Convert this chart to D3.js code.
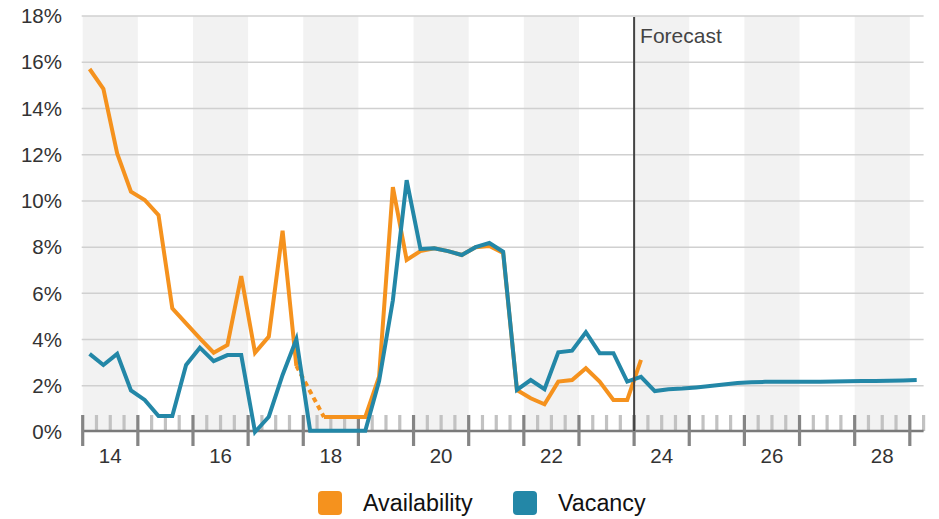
<!DOCTYPE html>
<html>
<head>
<meta charset="utf-8">
<script src="https://cdn.jsdelivr.net/npm/d3@7"></script>
<style>
  html, body { margin: 0; padding: 0; background: #fff; }
  svg { display: block; font-family: "Liberation Sans", Arial, Helvetica, sans-serif; }
</style>
</head>
<body>
<svg id="chart" width="939" height="519"></svg>
<script>
// ---- data ----
const quarters = [
  "2014Q1","2014Q2","2014Q3","2014Q4","2015Q1","2015Q2","2015Q3","2015Q4",
  "2016Q1","2016Q2","2016Q3","2016Q4","2017Q1","2017Q2","2017Q3","2017Q4",
  "2018Q1","2018Q2","2018Q3","2018Q4","2019Q1","2019Q2","2019Q3","2019Q4",
  "2020Q1","2020Q2","2020Q3","2020Q4","2021Q1","2021Q2","2021Q3","2021Q4",
  "2022Q1","2022Q2","2022Q3","2022Q4","2023Q1","2023Q2","2023Q3","2023Q4",
  "2024Q1","2024Q2","2024Q3","2024Q4","2025Q1","2025Q2","2025Q3","2025Q4",
  "2026Q1","2026Q2","2026Q3","2026Q4","2027Q1","2027Q2","2027Q3","2027Q4",
  "2028Q1","2028Q2","2028Q3","2028Q4","2029Q1"
];
const availability = [
  15.71, 14.85, 12.06, 10.4, 10.04, 9.39, 5.35, 4.7,
  4.05, 3.43, 3.77, 6.75, 3.43, 4.13, 8.71, 2.86,
  null, 0.65, 0.65, 0.65, 0.65, 2.4, 10.6, 7.45,
  7.83, 7.95, 7.83, 7.66, 8.0, 8.05, 7.75, 1.82,
  1.46, 1.2, 2.18, 2.25, 2.76, 2.18, 1.39, 1.39,
  3.12
];
const vacancy = [
  3.38, 2.9, 3.38, 1.8, 1.39, 0.69, 0.69, 2.9,
  3.65, 3.07, 3.33, 3.33, 0.0, 0.66, 2.47, 4.01,
  0.05, 0.05, 0.05, 0.05, 0.05, 2.2, 5.7, 10.9,
  7.92, 7.95, 7.83, 7.66, 8.0, 8.18, 7.8, 1.82,
  2.25, 1.85, 3.45, 3.52, 4.32, 3.41, 3.41, 2.18,
  2.39, 1.77, 1.85, 1.88, 1.93, 1.99, 2.06, 2.12,
  2.15, 2.17, 2.18, 2.17, 2.17, 2.18, 2.19, 2.2,
  2.21, 2.21, 2.22, 2.23, 2.25
];
const yTicks = [0, 2, 4, 6, 8, 10, 12, 14, 16, 18];
const yearLabels = ["14", "16", "18", "20", "22", "24", "26", "28"];
const forecastStart = "2024Q1";
const seriesNames = ["Availability", "Vacancy"];
const seriesColors = ["#F5921E", "#2387A7"];

// ---- helpers ----
const qTime = q => +q.slice(0, 4) + (+q.slice(5) - 1) / 4; // start of quarter
const qMid = q => qTime(q) + 0.125;

const svg = d3.select("#chart");
const x = d3.scaleLinear().domain([2014, 2029.25]).range([82.7, 923.6]);
const y = d3.scaleLinear().domain([0, 18]).range([432, 16.1]);
const axisY = 431;

// background year bands
const years = d3.range(2014, 2029);
svg.append("g").selectAll("rect")
  .data(years.filter(yr => (yr - 2014) % 2 === 0))
  .join("rect")
  .attr("x", d => x(d)).attr("width", d => x(d + 1) - x(d))
  .attr("y", y(18)).attr("height", axisY - y(18))
  .attr("fill", "#f2f2f2");

// gridlines
svg.append("g").selectAll("line")
  .data(yTicks.filter(t => t > 0))
  .join("line")
  .attr("x1", x(2014) - 1).attr("x2", x(2029.25))
  .attr("y1", d => y(d)).attr("y2", d => y(d))
  .attr("stroke", "#d0d0d0").attr("stroke-width", 1.5);

// y labels
svg.append("g").selectAll("text")
  .data(yTicks)
  .join("text")
  .attr("x", 62).attr("y", d => y(d))
  .attr("dy", "0.35em")
  .attr("text-anchor", "end")
  .attr("font-size", 20.5)
  .attr("fill", "#333")
  .text(d => d + "%");

// minor ticks (quarters)
const quarterBounds = d3.range(0, 62).map(i => 2014 + i / 4);
svg.append("g").selectAll("line")
  .data(quarterBounds.filter(v => v % 1 !== 0))
  .join("line")
  .attr("x1", d => x(d)).attr("x2", d => x(d))
  .attr("y1", 415).attr("y2", axisY)
  .attr("stroke", "#c2c2c2").attr("stroke-width", 3.2);

// axis line
svg.append("line")
  .attr("x1", x(2014)).attr("x2", x(2029.25))
  .attr("y1", axisY).attr("y2", axisY)
  .attr("stroke", "#7a7a7a").attr("stroke-width", 2.5);

// major ticks (years)
svg.append("g").selectAll("line")
  .data(d3.range(2014, 2030))
  .join("line")
  .attr("x1", d => x(d)).attr("x2", d => x(d))
  .attr("y1", 415).attr("y2", 446)
  .attr("stroke", "#858585").attr("stroke-width", 3.2);

// x labels
svg.append("g").selectAll("text")
  .data(yearLabels)
  .join("text")
  .attr("x", d => x(2000 + +d + 0.5))
  .attr("y", 463)
  .attr("text-anchor", "middle")
  .attr("font-size", 20.5)
  .attr("fill", "#333")
  .text(d => d);

// lines
const line = d3.line()
  .defined(d => d.v != null)
  .x(d => x(qMid(d.q)))
  .y(d => y(d.v));

const availData = availability.map((v, i) => ({ q: quarters[i], v }));
const vacData = vacancy.map((v, i) => ({ q: quarters[i], v }));

// dashed gap bridging for availability
const gaps = [];
availData.forEach((d, i) => {
  if (d.v == null) {
    let a = i - 1, b = i + 1;
    while (a >= 0 && availData[a].v == null) a--;
    while (b < availData.length && availData[b].v == null) b++;
    if (a >= 0 && b < availData.length) gaps.push([availData[a], availData[b]]);
  }
});
svg.append("g").selectAll("path")
  .data(gaps)
  .join("path")
  .attr("d", d => d3.line().x(p => x(qMid(p.q))).y(p => y(p.v))(d))
  .attr("fill", "none")
  .attr("stroke", seriesColors[0])
  .attr("stroke-width", 4)
  .attr("stroke-dasharray", "5,4");

svg.append("path")
  .datum(availData)
  .attr("d", line)
  .attr("fill", "none")
  .attr("stroke", seriesColors[0])
  .attr("stroke-width", 4)
  .attr("stroke-linejoin", "miter");

svg.append("path")
  .datum(vacData)
  .attr("d", line)
  .attr("fill", "none")
  .attr("stroke", seriesColors[1])
  .attr("stroke-width", 4)
  .attr("stroke-linejoin", "miter");

// forecast marker
const fx = x(qTime(forecastStart));
svg.append("line")
  .attr("x1", fx).attr("x2", fx)
  .attr("y1", y(18) + 1).attr("y2", axisY)
  .attr("stroke", "#444").attr("stroke-width", 2);
svg.append("text")
  .attr("x", fx + 6).attr("y", 43)
  .attr("font-size", 21)
  .attr("fill", "#444")
  .text("Forecast");

// legend
const legend = svg.append("g");
const legendX = [318, 513];
seriesNames.forEach((name, i) => {
  legend.append("rect")
    .attr("x", legendX[i]).attr("y", 491)
    .attr("width", 24).attr("height", 24)
    .attr("rx", 4)
    .attr("fill", seriesColors[i]);
  legend.append("text")
    .attr("x", legendX[i] + 45).attr("y", 511)
    .attr("font-size", 23.3)
    .attr("fill", "#111")
    .text(name);
});
</script>
</body>
</html>
